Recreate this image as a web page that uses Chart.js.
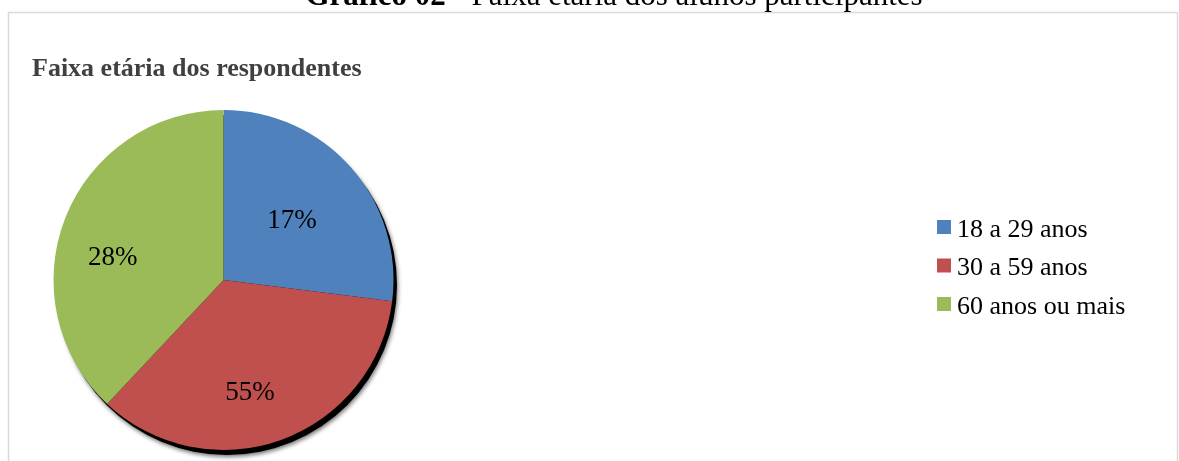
<!DOCTYPE html>
<html>
<head>
<meta charset="utf-8">
<script src="https://cdn.jsdelivr.net/npm/chart.js@4/dist/chart.umd.min.js"></script>
<style>
  html, body { margin: 0; padding: 0; background: #ffffff; }
  #wrap { position: relative; width: 1179px; height: 461px; }
</style>
</head>
<body>
<div id="wrap"><canvas id="c" width="1179" height="461"></canvas></div>
<script>
// ---- data ----
const categories = ['18 a 29 anos', '30 a 59 anos', '60 anos ou mais'];
const sliceValues = [27, 35, 38];          // slice sizes as drawn
const sliceLabels = ['17%', '55%', '28%'];  // labels as printed on the slices
const sliceColors = ['#4F81BD', '#C0504D', '#9BBB59'];
const pageTitleBold = 'Gráfico 02';
const pageTitleRest = ' - Faixa etária dos alunos participantes';
const chartTitle = 'Faixa etária dos respondentes';

const SERIF = '"Liberation Serif", "Times New Roman", serif';

const decor = {
  id: 'decor',
  beforeDraw(chart) {
    const ctx = chart.ctx;
    ctx.save();
    ctx.fillStyle = '#ffffff';
    ctx.fillRect(0, 0, chart.width, chart.height);
    // frame
    ctx.strokeStyle = '#d9d9d9';
    ctx.lineWidth = 1.5;
    ctx.beginPath();
    ctx.moveTo(8.5, chart.height + 2);
    ctx.lineTo(8.5, 12.5);
    ctx.lineTo(1177.5, 12.5);
    ctx.lineTo(1177.5, chart.height + 2);
    ctx.stroke();
    // page title (cut at top)
    ctx.fillStyle = '#000000';
    ctx.textBaseline = 'alphabetic';
    ctx.font = 'bold 31px ' + SERIF;
    const w1 = ctx.measureText(pageTitleBold).width;
    ctx.font = '31px ' + SERIF;
    const w2 = ctx.measureText(pageTitleRest).width;
    const x0 = 614 - (w1 + w2) / 2;
    ctx.font = 'bold 31px ' + SERIF;
    ctx.fillText(pageTitleBold, x0, 5);
    ctx.font = '31px ' + SERIF;
    ctx.fillText(pageTitleRest, x0 + w1, 5);
    // chart title
    ctx.fillStyle = '#404040';
    ctx.font = 'bold 26px ' + SERIF;
    ctx.fillText(chartTitle, 32, 76);
    ctx.restore();
  },
  beforeDatasetsDraw(chart) {
    const arc = chart.getDatasetMeta(0).data[0];
    if (!arc) return;
    const {x, y, outerRadius} = arc.getProps(['x', 'y', 'outerRadius'], true);
    const ctx = chart.ctx;
    ctx.save();
    ctx.shadowColor = 'rgba(0,0,0,0.55)';
    ctx.shadowBlur = 4;
    ctx.shadowOffsetX = 1;
    ctx.shadowOffsetY = 2;
    ctx.fillStyle = '#000000';
    ctx.beginPath();
    ctx.arc(x + 3.5, y + 5, outerRadius, 0, Math.PI * 2);
    ctx.fill();
    ctx.restore();
  },
  afterDatasetsDraw(chart, args, opts) {
    const ctx = chart.ctx;
    const meta = chart.getDatasetMeta(0);
    ctx.save();
    ctx.fillStyle = '#000000';
    ctx.font = '27px ' + SERIF;
    ctx.textAlign = 'center';
    ctx.textBaseline = 'middle';
    meta.data.forEach((arc, i) => {
      const p = arc.getProps(['x', 'y', 'startAngle', 'endAngle', 'outerRadius'], true);
      const mid = (p.startAngle + p.endAngle) / 2;
      const r = p.outerRadius * 0.6;
      const n = opts.nudge[i] || [0, 0];
      ctx.fillText(sliceLabels[i], p.x + Math.cos(mid) * r + n[0], p.y + Math.sin(mid) * r + n[1]);
    });
    // legend
    ctx.textAlign = 'left';
    ctx.textBaseline = 'alphabetic';
    ctx.font = '26px ' + SERIF;
    categories.forEach((c, i) => {
      const top = 220 + i * 38.5;
      ctx.fillStyle = sliceColors[i];
      ctx.fillRect(937, top, 14, 14);
      ctx.fillStyle = '#000000';
      ctx.fillText(c, 957, top + 16.5);
    });
    ctx.restore();
  }
};

new Chart(document.getElementById('c'), {
  type: 'pie',
  data: {
    labels: categories,
    datasets: [{
      data: sliceValues,
      backgroundColor: sliceColors,
      borderWidth: 0,
      hoverOffset: 0
    }]
  },
  options: {
    responsive: false,
    animation: false,
    events: [],
    layout: { padding: { left: 53.5, top: 110, right: 785.5, bottom: 11 } },
    plugins: {
      legend: { display: false },
      title: { display: false },
      tooltip: { enabled: false },
      decor: { nudge: [[-8, 8], [-8, 17], [-16, 15]] }
    }
  },
  plugins: [decor]
});
</script>
</body>
</html>
